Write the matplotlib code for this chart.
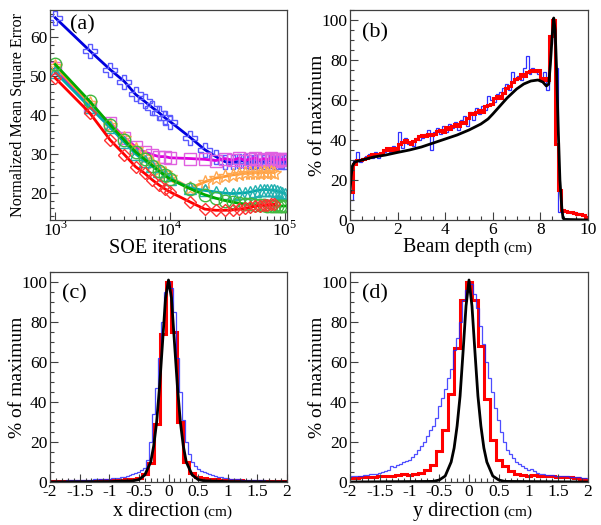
import numpy as np
import matplotlib.pyplot as plt
from matplotlib.ticker import MultipleLocator, FixedLocator, NullFormatter

plt.rcParams['font.family'] = 'Liberation Serif'
plt.rcParams['mathtext.fontset'] = 'custom'
plt.rcParams['mathtext.rm'] = 'Liberation Serif'
plt.rcParams['axes.unicode_minus'] = False

# ---- (a) error vs. iterations
iters = [1000, 2000, 3000, 4000, 5000, 6000, 7000, 8000, 9000, 10000,
         15000, 20000, 25000, 30000, 35000, 40000, 45000, 50000, 55000,
         60000, 65000, 70000, 75000, 80000, 85000, 90000, 95000, 100000]
err_blue = [65.0, 56.5, 51.7, 48.6, 45.3, 43.5, 41.9, 40.6, 39.3, 38.3,
            34.2, 31.1, 29.3, 28.0, 27.8, 28.2, 28.3, 27.9, 27.8, 28.2,
            27.9, 28.1, 28.3, 27.8, 28.0, 28.1, 27.8, 28.0]
err_magenta = [52.0, 42.0, 38.0, 34.2, 31.8, 30.5, 29.8, 29.3, 29.3, 29.0,
               28.8, 28.6, 28.3, 28.8, 28.4, 28.9, 28.3, 28.7, 29.0, 28.4,
               28.8, 28.5, 29.0, 28.6, 28.3, 28.8, 28.5, 28.6]
err_orange = [52.5, 43.0, 37.5, 34.0, 31.2, 29.2, 27.6, 26.2, 25.0, 24.0,
              21.2, 22.8, 23.8, 24.2, 24.6, 24.8, 25.0, 25.0, 25.2, 25.1,
              25.3, 25.2, 25.3, 25.2]
err_cyan = [51.0, 42.0, 36.8, 33.0, 30.0, 28.2, 26.8, 25.5, 24.5, 23.6,
            21.2, 20.6, 20.2, 19.9, 19.8, 19.9, 20.0, 20.2, 20.5, 20.7,
            20.8, 20.8, 20.7, 20.6, 20.4, 20.2, 20.0, 19.8]
err_green = [53.0, 43.5, 37.5, 33.5, 30.5, 28.6, 27.0, 25.6, 24.5, 23.5,
             21.0, 19.5, 18.6, 18.0, 17.6, 17.3, 17.1, 17.0, 16.9, 16.8,
             16.8, 16.7, 16.7, 16.6, 16.6, 16.6, 16.6, 16.6]
err_red = [49.5, 40.5, 33.6, 29.8, 26.7, 25.0, 23.3, 22.0, 21.0, 20.2,
           17.6, 15.8, 15.5, 15.5, 15.6, 15.8, 16.0, 16.3, 16.5, 16.7,
           16.8, 16.9, 17.0, 17.0]

# ---- (b) depth profile, 0.125 cm bins
depth_red = [14, 28, 30, 30, 30.5, 31, 32, 33,
             33, 32.5, 33.5, 35, 36, 35, 36, 35,
             38, 39, 40, 39, 38, 39.5, 40.5, 42,
             42.5, 42, 43, 42.5, 43, 44.5, 45, 44,
             46.5, 45.5, 47, 48, 47, 49, 48.5, 51,
             53.5, 53, 54, 55, 54, 57, 57.5, 58,
             61, 62, 61, 63.5, 66, 67, 69, 70.5,
             71, 73, 72, 74, 74.5, 75, 74.5, 75,
             70, 71, 70, 92, 100, 38, 15, 5,
             4.5, 4, 4, 3.5, 3, 3, 2.5, 1.5]
depth_blue = [10, 30, 34, 29, 31, 32, 33, 31,
              34, 31, 33, 34, 36, 34, 37, 36,
              44, 36, 41, 38, 39, 37, 41, 40,
              41, 43, 45, 35, 44, 46, 43, 47,
              44, 48, 46, 49, 45, 50, 52, 47,
              54, 50, 56, 53, 57, 55, 62, 60,
              59, 63, 64, 66, 68, 65, 74, 70,
              72, 70, 76, 82, 73, 76, 74, 73,
              70, 74, 65, 88, 100, 76, 4, 4,
              4.5, 4, 3.5, 4, 3.5, 3, 2.5, 2]
depth_x = [0, 0.05, 0.1, 0.2, 0.5, 1, 1.5, 2, 2.5, 3, 3.5, 4, 4.5, 5, 5.5,
           5.8, 6, 6.3, 6.6, 7, 7.3, 7.6, 7.9, 8.1, 8.25, 8.35, 8.42, 8.5,
           8.56, 8.62, 8.68, 8.75, 8.82, 8.9, 8.95, 9.0, 10]
depth_black = [14, 22, 27, 29, 30, 31.5, 32.5, 33.8, 35, 36.5, 38.5, 40.5,
               42.5, 45, 48, 50.5, 53, 57, 61, 65.5, 68, 69.5, 70, 69, 67,
               68, 78, 93, 101, 95, 75, 45, 20, 6, 1, 0.3, 0]

# ---- (c) x profile: red 0.1 cm bins, blue 0.05 cm bins
xprof_red = [0.3, 0.3, 0.4, 0.4, 0.5, 0.5, 0.6, 0.6, 0.7, 0.8, 0.9, 1.0, 1.1,
             1.3, 1.6, 2.0,
             4, 9.5, 29, 74, 100, 75, 30, 10, 4.5,
             2.5, 2.0, 1.6, 1.3, 1.1, 1.0, 0.9, 0.8, 0.7, 0.6, 0.5, 0.5, 0.4,
             0.4, 0.3, 0.3]
xprof_blue = [0.6, 0.6, 0.7, 0.6, 0.7, 0.7, 0.8, 0.8, 0.9, 0.9,
              1.0, 1.0, 1.1, 1.1, 1.2, 1.3, 1.3, 1.4, 1.5, 1.6,
              1.7, 1.9, 2.0, 2.2, 2.4, 2.7, 3.0, 3.5,
              4.0, 4.5, 5.0, 6.0, 7.0, 11, 20, 34, 47, 62, 80, 95, 100,
              97, 85, 62, 45, 31, 20, 14, 10, 8, 6.5, 5.5, 5.0,
              4.5, 4.0, 3.5, 3.0, 2.6, 2.3, 2.0, 1.8,
              1.6, 1.5, 1.4, 1.3, 1.2, 1.1, 1.0, 1.0, 0.9, 0.9,
              0.8, 0.8, 0.7, 0.7, 0.6, 0.6, 0.5, 0.5, 0.5, 0.5]
xprof_x = [-2, -1, -0.6, -0.5, -0.4, -0.3, -0.25, -0.2, -0.15, -0.1, -0.05,
           0, 0.05, 0.1, 0.15, 0.2, 0.25, 0.3, 0.4, 0.5, 0.6, 1, 2]
xprof_black = [0, 0.2, 0.6, 1.2, 3.5, 10, 18, 30, 48, 70, 92,
               101, 92, 70, 48, 30, 18, 10, 3.5, 1.2, 0.6, 0.2, 0]

# ---- (d) y profile
yprof_red = [2.0, 2.2, 2.4, 2.5, 2.7, 2.8, 3.0, 3.2, 3.5, 3.8, 3.5, 4.0,
             4.5, 6.0, 8.7,
             15.5, 26, 44, 67, 91, 100, 91, 68, 41.5, 21, 11,
             8, 5.5, 4.0, 3.5, 3.0, 3.5, 3.2, 3.0, 2.8, 2.6, 2.5, 2.3, 2.0,
             1.5, 1.2]
yprof_blue = [2.5, 2.8, 3.0, 3.2, 3.0, 3.5, 3.3, 3.8, 4.0, 4.2,
              4.5, 5.0, 5.5, 6.0, 8.0, 7.5, 8.5, 9.0, 10.0, 10.5,
              11.0, 12.5, 14.0, 16.0, 18.0, 20.0, 23.0, 26.0,
              28, 32, 38, 42, 46.6, 52, 56.4, 66, 72, 80, 91, 96, 100,
              99, 94, 87, 78, 69, 60, 52, 45, 37, 31, 25, 20,
              16, 14, 12, 10, 9, 8, 7, 6,
              6.5, 5.5, 4.5, 4.0, 3.8, 3.7, 3.5, 3.4, 3.2, 3.0,
              3.0, 2.8, 2.8, 2.6, 2.5, 2.4, 2.3, 2.2, 2.0, 2.0]
yprof_x = [-2, -0.6, -0.5, -0.4, -0.3, -0.25, -0.2, -0.15, -0.1, -0.05,
           0, 0.05, 0.1, 0.15, 0.2, 0.25, 0.3, 0.4, 0.5, 0.6, 2]
yprof_black = [0, 0.3, 1, 3, 10, 17, 28, 43, 65, 88,
               101, 88, 65, 43, 28, 17, 10, 3, 1, 0.3, 0]

W, H = 601, 525
fig = plt.figure(figsize=(W / 100, H / 100), dpi=100)

def box(l, t, r, b):
    return [l / W, 1 - b / H, (r - l) / W, (b - t) / H]

axa = fig.add_axes(box(50, 10, 287, 220))
axb = fig.add_axes(box(350, 10, 588, 220))
axc = fig.add_axes(box(50, 272, 287, 482))
axd = fig.add_axes(box(350, 272, 588, 482))

frame = '#404040'
for ax in (axa, axb, axc, axd):
    for s in ax.spines.values():
        s.set_color(frame)
        s.set_linewidth(0.9)
    ax.tick_params(which='both', direction='in', top=False, right=False,
                   color=frame, labelsize=12.5, width=0.8)
    ax.tick_params(which='major', length=5.5)
    ax.tick_params(which='minor', length=3)
    ax.tick_params(axis='x', pad=1.5)
    ax.tick_params(axis='y', pad=2)

# (a)
series = [
    (err_blue, '#0000dd', '#5a5aff', 'P', 10),
    (err_magenta, '#dd00dd', '#e060e0', 's', 8.5),
    (err_orange, '#ff9933', '#ffa850', '*', 10),
    (err_cyan, '#00aaaa', '#20b0b0', '^', 8),
    (err_green, '#00aa00', '#40b840', 'o', 9),
    (err_red, '#ff0000', '#ff3030', 'D', 6.5),
]
for vals, lc, mc, mk, ms in series:
    xs = iters[:len(vals)]
    axa.plot(xs, vals, color=lc, lw=2)
    axa.plot(xs, vals, ls='none', marker=mk, ms=ms, mfc='none', mec=mc, mew=1)
axa.set_xscale('log')
axa.set_xlim(900, 1.04e5)
axa.set_ylim(13, 67)
axa.xaxis.set_major_locator(FixedLocator([1e3, 1e4, 1e5]))
axa.set_xticklabels(['$10^3$', '$10^4$', '$10^5$'])
axa.xaxis.set_minor_locator(FixedLocator(
    [k * 10 ** e for e in (3, 4) for k in range(2, 10)]))
axa.xaxis.set_minor_formatter(NullFormatter())
axa.tick_params(axis='x', pad=0)
axa.yaxis.set_major_locator(MultipleLocator(10))
axa.yaxis.set_minor_locator(MultipleLocator(2))

# (b)
edges_b = np.linspace(0, 10, len(depth_red) + 1)
axb.stairs(depth_blue, edges_b, color='#3030ff', lw=0.9, baseline=None)
axb.stairs(depth_red, edges_b, color='#ff0000', lw=2.2, baseline=None)
axb.plot(depth_x, depth_black, color='black', lw=2)
axb.set_xlim(0, 10)
axb.set_ylim(0, 105)
axb.xaxis.set_major_locator(MultipleLocator(2))
axb.xaxis.set_minor_locator(MultipleLocator(0.5))

# (c), (d)
edges_r = np.linspace(-2.05, 2.05, len(xprof_red) + 1)
edges_bl = np.linspace(-2.025, 2.025, len(xprof_blue) + 1)
for ax, red, blue, bx, by in ((axc, xprof_red, xprof_blue, xprof_x, xprof_black),
                              (axd, yprof_red, yprof_blue, yprof_x, yprof_black)):
    ax.stairs(red, edges_r, color='#ff0000', lw=2.2, baseline=None)
    ax.stairs(blue, edges_bl, color='#2020ff', lw=0.9, alpha=0.8, baseline=None)
    ax.plot(bx, by, color='black', lw=2)
    ax.set_xlim(-2, 2)
    ax.set_ylim(0, 105)
    ax.xaxis.set_major_locator(MultipleLocator(0.5))
    ax.xaxis.set_minor_locator(MultipleLocator(0.1))
    ax.set_xticks([-2, -1.5, -1, -0.5, 0, 0.5, 1, 1.5, 2])
    ax.set_xticklabels(['-2', '-1.5', '-1', '-0.5', '0', '0.5', '1', '1.5', '2'])

for ax in (axb, axc, axd):
    ax.yaxis.set_major_locator(MultipleLocator(20))
    ax.yaxis.set_minor_locator(MultipleLocator(5))

# labels
fig.text(18 / W, 1 - 115 / H, 'Normalized Mean Square Error', rotation=90,
         ha='center', va='center', size=11.6)
fig.text(318 / W, 1 - 115 / H, '% of maximum', rotation=90,
         ha='center', va='center', size=14)
fig.text(18 / W, 1 - 377 / H, '% of maximum', rotation=90,
         ha='center', va='center', size=14)
fig.text(318 / W, 1 - 377 / H, '% of maximum', rotation=90,
         ha='center', va='center', size=14)

fig.text(168 / W, 1 - 253 / H, 'SOE iterations', ha='center', va='baseline', size=14.5)
for xr, yb, txt in ((500, 252, 'Beam depth'), (200, 516, 'x direction'),
                    (500, 516, 'y direction')):
    fig.text(xr / W, 1 - yb / H, txt, ha='right', va='baseline', size=14.5)
    fig.text((xr + 3) / W, 1 - yb / H, '(cm)', ha='left', va='baseline', size=11)

for x0, y0, txt in ((70, 25, '(a)'), (362, 33, '(b)'), (62, 294, '(c)'), (362, 294, '(d)')):
    fig.text(x0 / W, 1 - y0 / H, txt, ha='left', va='center', size=16)

fig.savefig('out.png', dpi=100)
